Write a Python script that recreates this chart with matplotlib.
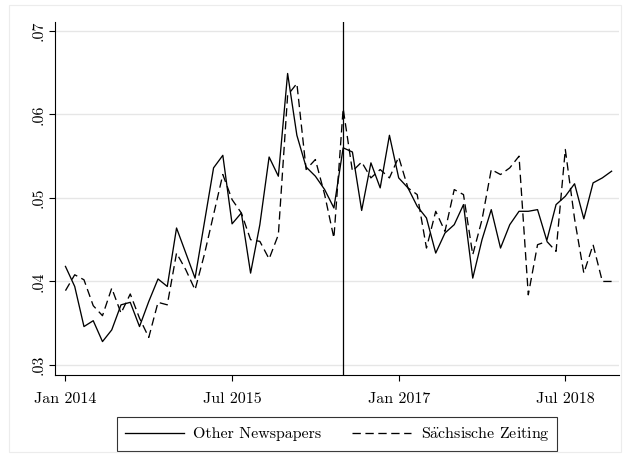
import numpy as np
import matplotlib
matplotlib.use("Agg")
import matplotlib.pyplot as plt
from matplotlib.patches import Rectangle

# ---- data (monthly, Jan 2014 - Dec 2018) ----
other_newspapers = [
    .0418, .0394, .0346, .0353, .0328, .0342, .0372, .0375, .0346, .0376,
    .0403, .0394, .0464, .0434, .0404, .0470, .0536, .0551, .0469, .0482,
    .0410, .0468, .0549, .0526, .0649, .0575, .0537, .0526, .0510, .0488,
    .0560, .0555, .0485, .0542, .0512, .0575, .0524, .0512, .0490, .0476,
    .0434, .0458, .0468, .0492, .0404, .0450, .0486, .0440, .0468, .0484,
    .0484, .0486, .0449, .0492, .0502, .0517, .0475, .0518, .0524, .0532,
]
saechsische = [
    .0389, .0408, .0402, .0371, .0359, .0392, .0362, .0385, .0356, .0333,
    .0375, .0372, .0434, .0414, .0390, .0432, .0480, .0528, .0498, .0482,
    .0450, .0448, .0427, .0456, .0623, .0637, .0534, .0546, .0504, .0452,
    .0607, .0532, .0543, .0524, .0534, .0524, .0549, .0512, .0504, .0440,
    .0484, .0460, .0510, .0504, .0432, .0474, .0534, .0528, .0536, .0550,
    .0384, .0444, .0448, .0436, .0558, .0475, .0410, .0444, .0400, .0400,
]
series_labels = ["Other Newspapers", "S" + r"$\ddot{\mathrm{a}}$" + "chsische Zeiting"]
xtick_pos = [0, 18, 36, 54]
xtick_labels = ["Jan 2014", "Jul 2015", "Jan 2017", "Jul 2018"]
ytick_vals = [.03, .04, .05, .06, .07]
ytick_labels = [".03", ".04", ".05", ".06", ".07"]
event_month = 30  # Jul 2016

plt.rcParams['font.family'] = ['cmr10', 'DejaVu Serif']
plt.rcParams['mathtext.fontset'] = 'cm'
plt.rcParams['axes.unicode_minus'] = False
plt.rcParams['lines.scale_dashes'] = False

fig = plt.figure(figsize=(6.26, 4.57), dpi=100)
fig.patches.append(Rectangle((9/626, 5/457), 612/626, 447/457, transform=fig.transFigure,
                             fill=False, edgecolor='#ececec', linewidth=0.8))
ax = fig.add_axes([55/626, (457-375)/457, (619-55)/626, (375-21.7)/457])

x = np.arange(len(other_newspapers))
ax.plot(x, other_newspapers, color='black', lw=0.95, label=series_labels[0])
ax.plot(x, saechsische, color='black', lw=0.95, linestyle=(0, (6.0, 3.3)), label=series_labels[1])
ax.axvline(event_month, color='black', lw=0.9)

ax.set_xlim(-1.13, 59.8)
ax.set_ylim(.0288, .0711)
ax.set_xticks(xtick_pos)
ax.set_xticklabels(xtick_labels)
ax.set_yticks(ytick_vals)
ax.set_yticklabels(ytick_labels, rotation=90, va='center')
ax.tick_params(axis='both', direction='out', length=4, width=0.8, labelsize=11.5, colors='black')
ax.tick_params(axis='x', pad=8.5)
ax.tick_params(axis='y', pad=3)
ax.yaxis.grid(True, color='#e6e6e6', lw=1.0)
ax.set_axisbelow(True)
for s in ['top', 'right']:
    ax.spines[s].set_visible(False)
for s in ['left', 'bottom']:
    ax.spines[s].set_linewidth(0.8)

leg = ax.legend(loc='upper center', bbox_to_anchor=(0.5, -0.097), ncol=2, frameon=True,
                fancybox=False, edgecolor='black', fontsize=11.5, handlelength=3.7,
                columnspacing=1.9, borderpad=0.5, handletextpad=0.6, borderaxespad=0.5)
leg.get_frame().set_linewidth(0.8)

fig.savefig('out.png', dpi=100)
